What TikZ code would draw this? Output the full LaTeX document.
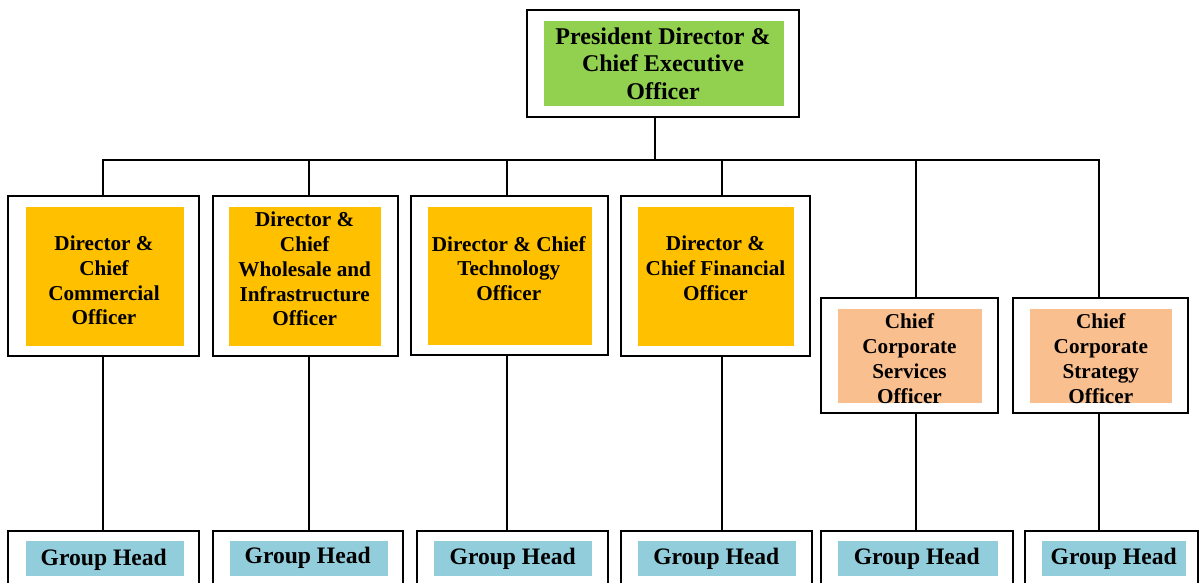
\documentclass[tikz,border=0pt]{standalone}
\usepackage{fontspec}
\setmainfont{Liberation Serif}
\usetikzlibrary{positioning}

\definecolor{ceogreen}{RGB}{146,208,80}
\definecolor{diramber}{RGB}{255,192,0}
\definecolor{chiefpeach}{RGB}{250,191,143}
\definecolor{groupblue}{RGB}{146,205,220}

\begin{document}
\begin{tikzpicture}[x=1pt, y=-1pt,
    orgframe/.style n args={2}{draw, line width=1.8pt, inner sep=0pt, minimum width=#1, minimum height=#2},
    fillbox/.style n args={2}{inner sep=0pt, minimum width=#1, minimum height=#2},
    txt/.style={font=\bfseries\fontsize{21.2}{24.8}\selectfont, align=center, inner sep=0pt},
    toptxt/.style={font=\bfseries\fontsize{24}{27.5}\selectfont, align=center, inner sep=0pt},
    ghtxt/.style={font=\bfseries\fontsize{23.6}{27}\selectfont, inner sep=0pt, anchor=base},
    conn/.style={line width=1.8pt}]
    \useasboundingbox (0,0) rectangle (1201,582);
    \clip (0,0) rectangle (1201,582);

    % top
    \node[orgframe={272.6}{106.7}] (ceo) at (663,63.3) {};
    \node[fillbox={240}{85}, fill=ceogreen] (ceoFill) at (664,63.5) {};
    \node[toptxt] (ceoText) at (663,63.5) {President Director \&\\Chief Executive\\Officer};

    % directors
    \node[orgframe={191}{160}] (cco) at (103.8,276) {};
    \node[fillbox={158}{139}, fill=diramber] (ccoFill) at (105,276.5) {};
    \node[txt] (ccoText) at (104,280.5) {Director \&\\Chief\\Commercial\\Officer};

    \node[orgframe={185}{160}] (cwio) at (305.2,276) {};
    \node[fillbox={152}{139}, fill=diramber] (cwioFill) at (305,276.5) {};
    \node[txt] (cwioText) at (304.7,269) {Director \&\\Chief\\Wholesale and\\Infrastructure\\Officer};

    \node[orgframe={197.3}{159.3}] (cto) at (509.3,275.4) {};
    \node[fillbox={164}{138.3}, fill=diramber] (ctoFill) at (510,275.9) {};
    \node[txt] (ctoText) at (508.8,268.5) {Director \& Chief\\Technology\\Officer};

    \node[orgframe={189.3}{160.3}] (cfo) at (715.3,275.9) {};
    \node[fillbox={156}{138.7}, fill=diramber] (cfoFill) at (716,276.4) {};
    \node[txt] (cfoText) at (715.5,268.5) {Director \&\\Chief Financial\\Officer};

    % chiefs
    \node[orgframe={176.7}{114.7}] (ccso) at (909.3,355.3) {};
    \node[fillbox={144}{93.7}, fill=chiefpeach] (ccsoFill) at (910,355.9) {};
    \node[txt] (ccsoText) at (909.5,358.5) {Chief\\Corporate\\Services\\Officer};

    \node[orgframe={174.7}{114.7}] (ccsto) at (1100.3,355.3) {};
    \node[fillbox={142}{93.7}, fill=chiefpeach] (ccstoFill) at (1101,355.9) {};
    \node[txt] (ccstoText) at (1100.8,358.5) {Chief\\Corporate\\Strategy\\Officer};

    % group heads
    \node[orgframe={191}{69.3}] (ghA) at (103.8,565.3) {};
    \node[fillbox={158}{35}, fill=groupblue] (ghAFill) at (105,558.5) {};
    \node[ghtxt] (ghAText) at (103.8,565) {Group Head};

    \node[orgframe={190.6}{69.3}] (ghB) at (308,565.3) {};
    \node[fillbox={158.3}{35}, fill=groupblue] (ghBFill) at (308.8,558.5) {};
    \node[ghtxt] (ghBText) at (307.7,563.5) {Group Head};

    \node[orgframe={191.3}{69.3}] (ghC) at (512.3,565.3) {};
    \node[fillbox={158}{35}, fill=groupblue] (ghCFill) at (513,558.5) {};
    \node[ghtxt] (ghCText) at (512.7,564) {Group Head};

    \node[orgframe={190.7}{69.3}] (ghD) at (716.3,565.3) {};
    \node[fillbox={158}{35}, fill=groupblue] (ghDFill) at (717,558.5) {};
    \node[ghtxt] (ghDText) at (716.3,564) {Group Head};

    \node[orgframe={192.3}{69.3}] (ghE) at (917.2,565.3) {};
    \node[fillbox={160}{35}, fill=groupblue] (ghEFill) at (918,558.5) {};
    \node[ghtxt] (ghEText) at (916.8,564) {Group Head};

    \node[orgframe={172.7}{69.3}] (ghF) at (1111.7,565.3) {};
    \node[fillbox={143.7}{35}, fill=groupblue] (ghFFill) at (1113.9,558.5) {};
    \node[ghtxt] (ghFText) at (1113.7,564) {Group Head};

    % connectors
    \coordinate (busTop) at (655.3,160);
    \coordinate (dropA) at (102.7,160);
    \coordinate (dropB) at (309,160);
    \coordinate (dropC) at (507.3,160);
    \coordinate (dropD) at (721.7,160);
    \coordinate (dropE) at (915.7,160);
    \coordinate (dropF) at (1099.3,160);

    \draw[conn] (ceo.south -| busTop) -- (busTop);
    \draw[conn] (dropA |- cco.north) -- (dropA) -- (dropF) -- (dropF |- ccsto.north);
    \foreach \d/\up in {B/cwio, C/cto, D/cfo, E/ccso}
        \draw[conn] (drop\d) -- (drop\d |- \up.north);
    \foreach \d/\up in {A/cco, B/cwio, C/cto, D/cfo, E/ccso, F/ccsto}
        \draw[conn] (drop\d |- \up.south) -- (drop\d |- gh\d.north);
\end{tikzpicture}
\end{document}
